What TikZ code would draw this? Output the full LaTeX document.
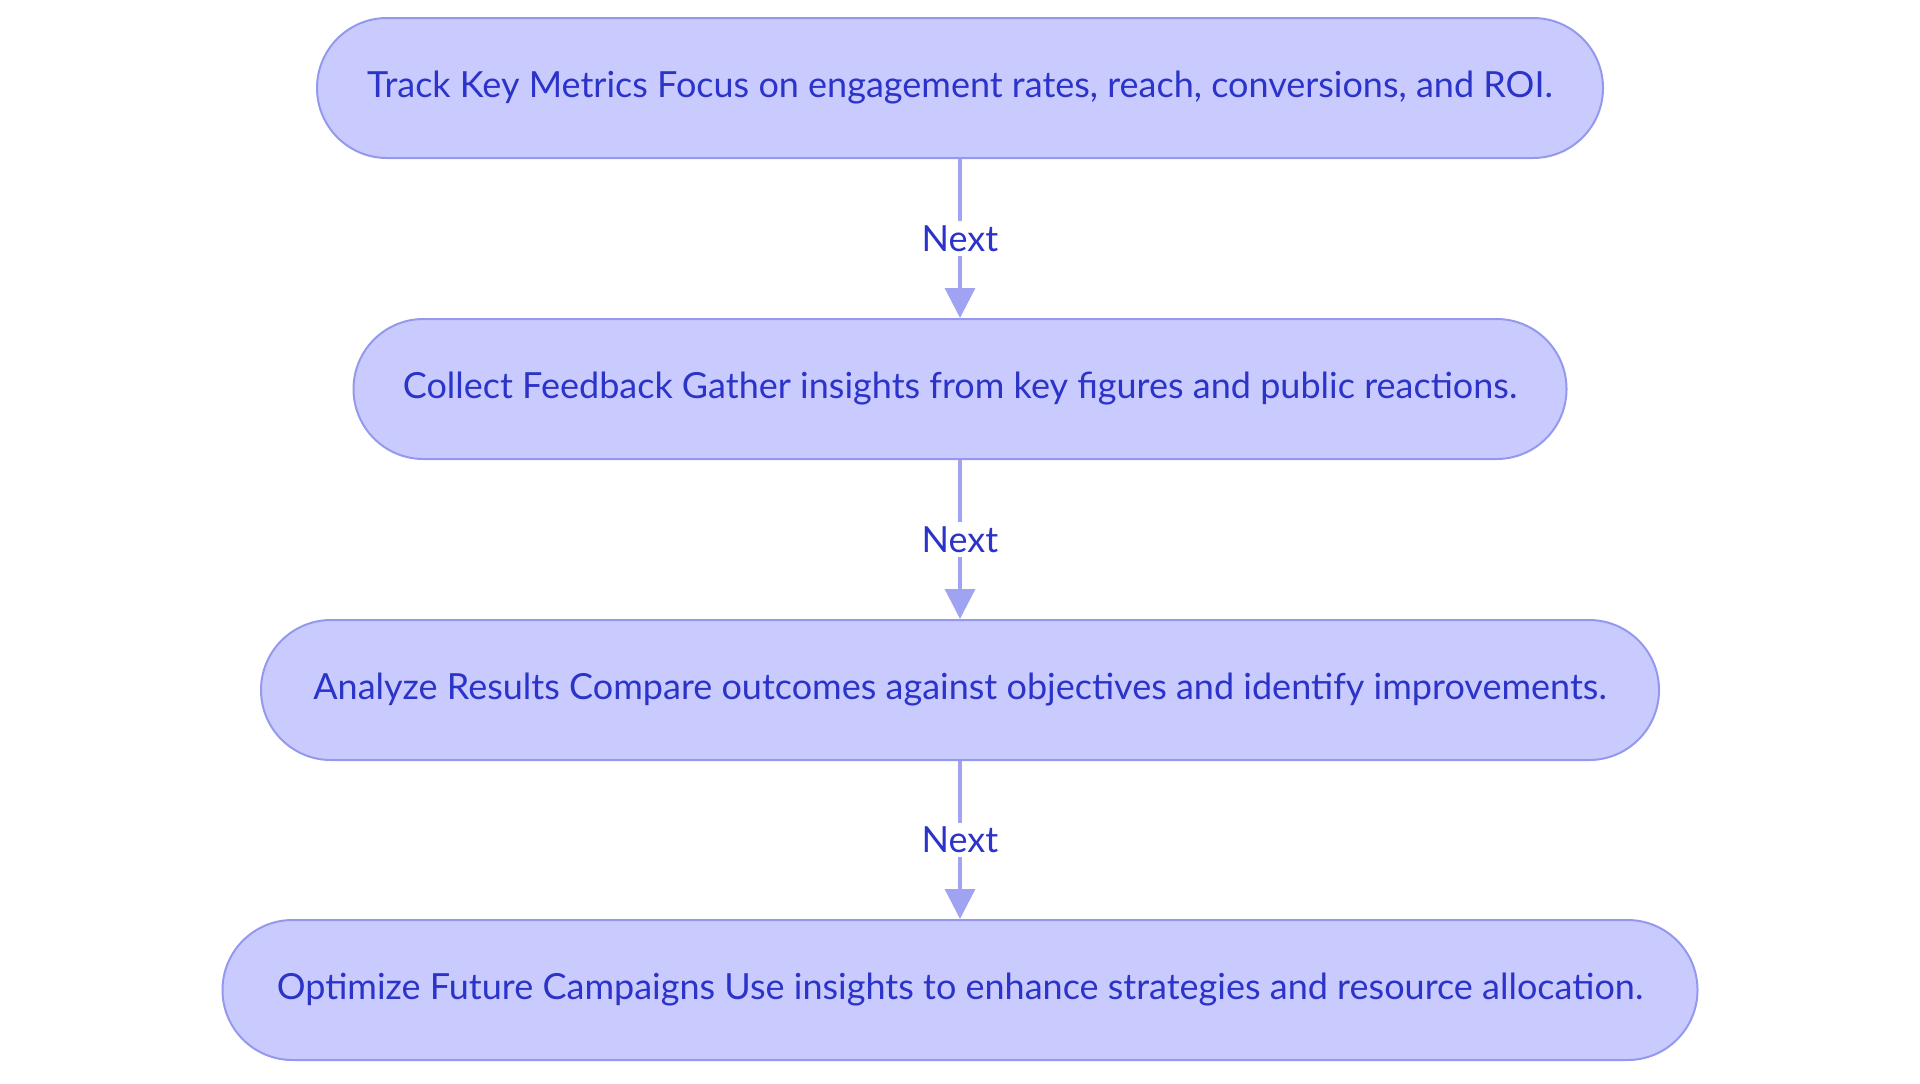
\documentclass[tikz,border=0pt]{standalone}
\usepackage{fontspec}
\setmainfont{Lato}
\usetikzlibrary{arrows.meta}
\usetikzlibrary{positioning}
\definecolor{boxfill}{HTML}{C9CBFE}
\definecolor{boxline}{HTML}{9599EE}
\definecolor{boxtext}{HTML}{2B33C9}
\definecolor{arrowline}{HTML}{A0A3F1}

\begin{document}
\begin{tikzpicture}[x=0.5pt,y=-0.5pt]
	\useasboundingbox (0,0) rectangle (1920,1083);
	\begin{scope}[every node/.style={draw=boxline, fill=boxfill, text=boxtext, line width=1pt, rounded corners=35pt, minimum height=70pt, font=\fontsize{18}{21}\selectfont}]
		\node[minimum width=643pt] (1) at (960,88) {Track Key Metrics Focus on engagement rates, reach, conversions, and ROI.};
		\node[minimum width=606.5pt] (2) at (960,389) {Collect Feedback Gather insights from key figures and public reactions.};
		\node[minimum width=699pt] (3) at (960,690) {Analyze Results Compare outcomes against objectives and identify improvements.};
		\node[minimum width=737.5pt] (4) at (960,990) {Optimize Future Campaigns Use insights to enhance strategies and resource allocation.};
	\end{scope}

	\begin{scope}[>={Triangle[length=15pt,width=15pt]},
	              every node/.style={fill=white, text=boxtext, inner sep=2pt, font=\fontsize{18}{21}\selectfont},
	              every edge/.style={draw=arrowline, line width=1.6pt, ->}]
		\foreach \i/\j in {1/2,2/3,3/4}{\path (\i) edge node {Next} (\j);}
	\end{scope}
\end{tikzpicture}
\end{document}
